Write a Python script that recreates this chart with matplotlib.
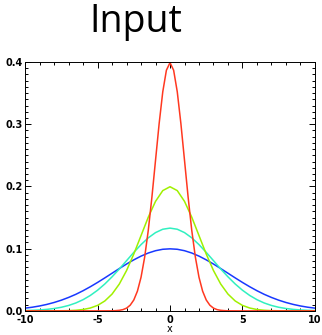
import matplotlib
matplotlib.use("Agg")
import matplotlib.pyplot as plt
from matplotlib.ticker import MultipleLocator, FormatStrFormatter

# sample positions read along the x axis
x_wide = [-10, -9.5, -9, -8.5, -8, -7.5, -7, -6.5, -6, -5.5, -5, -4.5, -4, -3.5, -3, -2.5,
          -2, -1.5, -1, -0.5, 0, 0.5, 1, 1.5, 2, 2.5, 3, 3.5, 4, 4.5, 5, 5.5, 6, 6.5, 7,
          7.5, 8, 8.5, 9, 9.5, 10]
x_narrow = [-10, -8, -6, -5, -4, -3.75, -3.5, -3.25, -3, -2.75, -2.5, -2.25, -2, -1.75,
            -1.5, -1.25, -1, -0.75, -0.5, -0.25, 0, 0.25, 0.5, 0.75, 1, 1.25, 1.5, 1.75,
            2, 2.25, 2.5, 2.75, 3, 3.25, 3.5, 3.75, 4, 5, 6, 8, 10]

# curve heights
blue = [0.0044, 0.0059, 0.0079, 0.0104, 0.0135, 0.0172, 0.0216, 0.0266, 0.0324, 0.0388,
        0.0457, 0.0530, 0.0605, 0.0680, 0.0753, 0.0820, 0.0880, 0.0930, 0.0967, 0.0990,
        0.0997, 0.0990, 0.0967, 0.0930, 0.0880, 0.0820, 0.0753, 0.0680, 0.0605, 0.0530,
        0.0457, 0.0388, 0.0324, 0.0266, 0.0216, 0.0172, 0.0135, 0.0104, 0.0079, 0.0059,
        0.0044]
cyan = [0.0005, 0.0009, 0.0015, 0.0024, 0.0038, 0.0058, 0.0087, 0.0127, 0.0180, 0.0248,
        0.0332, 0.0432, 0.0547, 0.0673, 0.0807, 0.0940, 0.1065, 0.1174, 0.1258, 0.1312,
        0.1330, 0.1312, 0.1258, 0.1174, 0.1065, 0.0940, 0.0807, 0.0673, 0.0547, 0.0432,
        0.0332, 0.0248, 0.0180, 0.0127, 0.0087, 0.0058, 0.0038, 0.0024, 0.0015, 0.0009,
        0.0005]
lime = [0.0, 0.0, 0.0, 0.0, 0.0001, 0.0002, 0.0004, 0.0010, 0.0022, 0.0046,
        0.0088, 0.0159, 0.0270, 0.0431, 0.0648, 0.0913, 0.1210, 0.1506, 0.1760, 0.1933,
        0.1995, 0.1933, 0.1760, 0.1506, 0.1210, 0.0913, 0.0648, 0.0431, 0.0270, 0.0159,
        0.0088, 0.0046, 0.0022, 0.0010, 0.0004, 0.0002, 0.0001, 0.0, 0.0, 0.0,
        0.0]
red = [0.0, 0.0, 0.0, 0.0, 0.0001, 0.0004, 0.0009, 0.0020, 0.0044, 0.0091,
       0.0175, 0.0317, 0.0540, 0.0863, 0.1295, 0.1827, 0.2420, 0.3011, 0.3521, 0.3867,
       0.3989, 0.3867, 0.3521, 0.3011, 0.2420, 0.1827, 0.1295, 0.0863, 0.0540, 0.0317,
       0.0175, 0.0091, 0.0044, 0.0020, 0.0009, 0.0004, 0.0001, 0.0, 0.0, 0.0,
       0.0]

fig = plt.figure(figsize=(3.22, 3.35), dpi=100)
ax = fig.add_axes([0.078, 0.072, 0.900, 0.743])

ax.plot(x_wide, blue, color="#1838ff", lw=1.1)
ax.plot(x_wide, cyan, color="#30f0c0", lw=1.1)
ax.plot(x_wide, lime, color="#a0f000", lw=1.1)
ax.plot(x_narrow, red, color="#ff3820", lw=1.1)

ax.set_xlim(-10, 10)
ax.set_ylim(0, 0.4)
ax.xaxis.set_major_locator(MultipleLocator(5))
ax.xaxis.set_minor_locator(MultipleLocator(1))
ax.yaxis.set_major_locator(MultipleLocator(0.1))
ax.yaxis.set_minor_locator(MultipleLocator(0.01))
ax.yaxis.set_major_formatter(FormatStrFormatter("%.1f"))
ax.xaxis.set_major_formatter(FormatStrFormatter("%d"))

ax.tick_params(which="both", direction="in", top=True, right=True, width=0.7)
ax.tick_params(which="major", length=4)
ax.tick_params(which="minor", length=2.2)
ax.tick_params(axis="x", which="major", pad=3)
ax.tick_params(axis="y", which="major", pad=2)
for s in ax.spines.values():
    s.set_linewidth(0.7)

tick_font = ["Liberation Sans Narrow", "DejaVu Sans"]
for lab in ax.get_xticklabels() + ax.get_yticklabels():
    lab.set_family(tick_font)
    lab.set_fontweight("bold")
    lab.set_fontsize(7)

ax.set_xlabel("x", fontsize=7, family=tick_font, labelpad=-0.5)

fig.text(0.422, 0.934, "Input", fontsize=27, family="Open Sans",
         ha="center", va="center")

fig.savefig("out.png", dpi=100)
